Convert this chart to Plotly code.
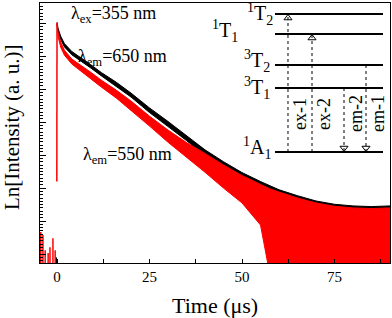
import plotly.graph_objects as go

# ---------------- data ----------------
# time grid (µs) for the decay envelopes
t_black = [0, 0.3, 1, 2, 4, 6, 9, 12, 16, 20, 25, 30, 35, 40, 45, 50, 55, 60, 65, 70, 75, 80, 85, 90]
# λem = 650 nm (black) : upper / lower edge of the noisy trace, Ln units
black_upper = [7.03, 6.83, 6.60, 6.38, 6.14, 5.99, 5.75, 5.50, 5.21, 4.88, 4.43, 4.02, 3.60, 3.16,
               2.80, 2.47, 2.20, 1.95, 1.77, 1.61, 1.51, 1.46, 1.44, 1.46]
black_lower = [6.97, 6.75, 6.50, 6.28, 6.04, 5.89, 5.65, 5.40, 5.09, 4.76, 4.29, 3.86, 3.44, 2.98,
               2.60, 2.25, 1.95, 1.65, 1.42, 1.22, 1.05, 0.92, 0.84, 0.80]

t_red = [0, 0.3, 1, 2, 4, 6, 9, 12, 16, 20, 25, 30, 35, 40, 45, 50, 55, 57.5, 60, 65, 70, 75, 80, 85, 90]
# λem = 550 nm (red)
red_upper = [7.00, 6.70, 6.42, 6.18, 5.91, 5.76, 5.52, 5.27, 4.97, 4.64, 4.18, 3.76, 3.38, 3.05,
             2.70, 2.38, 2.10, 1.98, 1.88, 1.70, 1.55, 1.45, 1.40, 1.38, 1.40]
red_lower = [7.00, 6.58, 6.27, 6.03, 5.76, 5.58, 5.33, 5.06, 4.73, 4.36, 3.88, 3.39, 2.94, 2.48,
             2.00, 1.55, 0.88, -0.6, -0.6, -0.6, -0.6, -0.6, -0.6, -0.6, -0.6]
# red rising edge at t = 0
t_red_rise = [-0.05, 0.0]
red_rise = [2.2, 7.0]
# pre-trigger noise spikes
t_red_pre = [-4.4, -3.8, -3.2, -2.4, -1.9, -1.1, -0.5]
red_pre = [0.67, 0.58, 0.12, 0.03, 0.21, 0.48, 0.12]
t_black_pre = [-0.2]
black_pre = [-0.1]
baseline = -0.6

x_ticks = [0, 25, 50, 75]

# inset energy-level diagram
level_names = ["<sup>1</sup>A<sub>1</sub>", "<sup>3</sup>T<sub>1</sub>", "<sup>3</sup>T<sub>2</sub>",
               "<sup>1</sup>T<sub>1</sub>", "<sup>1</sup>T<sub>2</sub>"]
level_energy = [0, 64, 87, 118, 138]
trans_names = ["ex-1", "ex-2", "em-2", "em-1"]
trans_from = [0, 0, 1, 2]
trans_to = [4, 3, 0, 0]

# ---------------- figure ----------------
FONT = "Liberation Serif"
RED = "#ff0000"
fig = go.Figure()


def band(x, up, lo, color):
    fig.add_trace(go.Scatter(x=x, y=up, mode="lines", line=dict(color=color, width=1),
                             showlegend=False, hoverinfo="skip"))
    fig.add_trace(go.Scatter(x=x, y=lo, mode="lines", line=dict(color=color, width=1),
                             fill="tonexty", fillcolor=color, showlegend=False, hoverinfo="skip"))


def spikes(ts, hs, color):
    xs, ys = [], []
    for t, h in zip(ts, hs):
        xs += [t, t, None]
        ys += [baseline, h, None]
    fig.add_trace(go.Scatter(x=xs, y=ys, mode="lines", line=dict(color=color, width=1.5),
                             showlegend=False, hoverinfo="skip"))


band(t_black, black_upper, black_lower, "black")
spikes(t_black_pre, black_pre, "black")
band(t_red, red_upper, red_lower, RED)
spikes(t_red_pre, red_pre, RED)
fig.add_trace(go.Scatter(x=t_red_rise, y=red_rise, mode="lines", line=dict(color=RED, width=1.5),
                         showlegend=False, hoverinfo="skip"))

# inset
LX0, LX1 = 70, 178
trans_x = [83, 107, 139, 161]
for e in level_energy:
    fig.add_trace(go.Scatter(x=[LX0, LX1], y=[e, e], mode="lines", line=dict(color="black", width=2),
                             xaxis="x2", yaxis="y2", showlegend=False, hoverinfo="skip"))
for name, f, t, xp in zip(trans_names, trans_from, trans_to, trans_x):
    e0, e1 = level_energy[f], level_energy[t]
    fig.add_trace(go.Scatter(x=[xp, xp], y=[e0, e1], mode="lines",
                             line=dict(color="black", width=1, dash="dot"),
                             xaxis="x2", yaxis="y2", showlegend=False, hoverinfo="skip"))
    up = e1 > e0
    fig.add_trace(go.Scatter(x=[xp], y=[e1 - 4 if up else e1 + 4], mode="markers",
                             marker=dict(symbol="triangle-up-open" if up else "triangle-down-open",
                                         size=7, color="black", line=dict(width=1)),
                             xaxis="x2", yaxis="y2", showlegend=False, hoverinfo="skip"))
    fig.add_annotation(x=xp + 12, y=38, xref="x2", yref="y2", text=name, textangle=-90,
                       xanchor="center", yanchor="middle",
                       showarrow=False, font=dict(family=FONT, size=18, color="black"))

label_pos = [(68, 4), (67, 64), (67, 91), (35, 121), (70, 138)]
for name, (lx, ly) in zip(level_names, label_pos):
    fig.add_annotation(x=lx, y=ly, xref="x2", yref="y2", text=name, xanchor="right",
                       yanchor="middle", showarrow=False,
                       font=dict(family=FONT, size=20, color="black"))

# text labels in main plot
for txt, ax_, ay_ in [("λ<sub>ex</sub>=355 nm", 0.21, 0.955),
                      ("λ<sub>em</sub>=650 nm", 0.237, 0.79),
                      ("λ<sub>em</sub>=550 nm", 0.249, 0.415)]:
    fig.add_annotation(x=ax_, y=ay_, xref="paper", yref="paper", text=txt, showarrow=False,
                       xanchor="center", yanchor="middle",
                       font=dict(family=FONT, size=18, color="black"))

fig.add_annotation(x=0.5, y=-0.162, xref="paper", yref="paper", text="Time (μs)",
                   xanchor="center", yanchor="middle",
                   showarrow=False, font=dict(family=FONT, size=22, color="black"))
fig.add_annotation(x=-0.08, y=0.523, xref="paper", yref="paper", text="Ln[Intensity (a. u.)]",
                   xanchor="center", yanchor="middle",
                   textangle=-90, showarrow=False, font=dict(family=FONT, size=21, color="black"))

fig.update_layout(
    width=392, height=318,
    margin=dict(l=40, r=2, t=3, b=55),
    paper_bgcolor="white", plot_bgcolor="rgba(0,0,0,0)",
    showlegend=False, hovermode=False,
    xaxis=dict(range=[-4.6, 90], tickvals=x_ticks, ticks="inside", ticklen=4, tickcolor="black",
               showline=True, linecolor="black", linewidth=1, mirror=True,
               showgrid=False, zeroline=False,
               tickfont=dict(family=FONT, size=15, color="black"),
               minor=dict(dtick=12.5, tick0=0, ticks="inside", ticklen=4, tickcolor="black")),
    yaxis=dict(range=[-0.27, 7.61], dtick=1, tick0=0, ticks="inside", ticklen=6, tickcolor="black",
               showticklabels=False, showline=True, linecolor="black", linewidth=1, mirror=True,
               showgrid=False, zeroline=False,
               minor=dict(dtick=0.1, tick0=0, ticks="inside", ticklen=3, tickcolor="black")),
    xaxis2=dict(domain=[0.4714, 1.0], range=[0, 185], visible=False, anchor="y2"),
    yaxis2=dict(domain=[0.396, 1.0], range=[-8, 149], visible=False, anchor="x2"),
)

fig.write_html("out.html",
               config={"staticPlot": True, "displayModeBar": False},
               post_script="document.body.style.margin='0px';document.body.style.overflow='hidden';")
